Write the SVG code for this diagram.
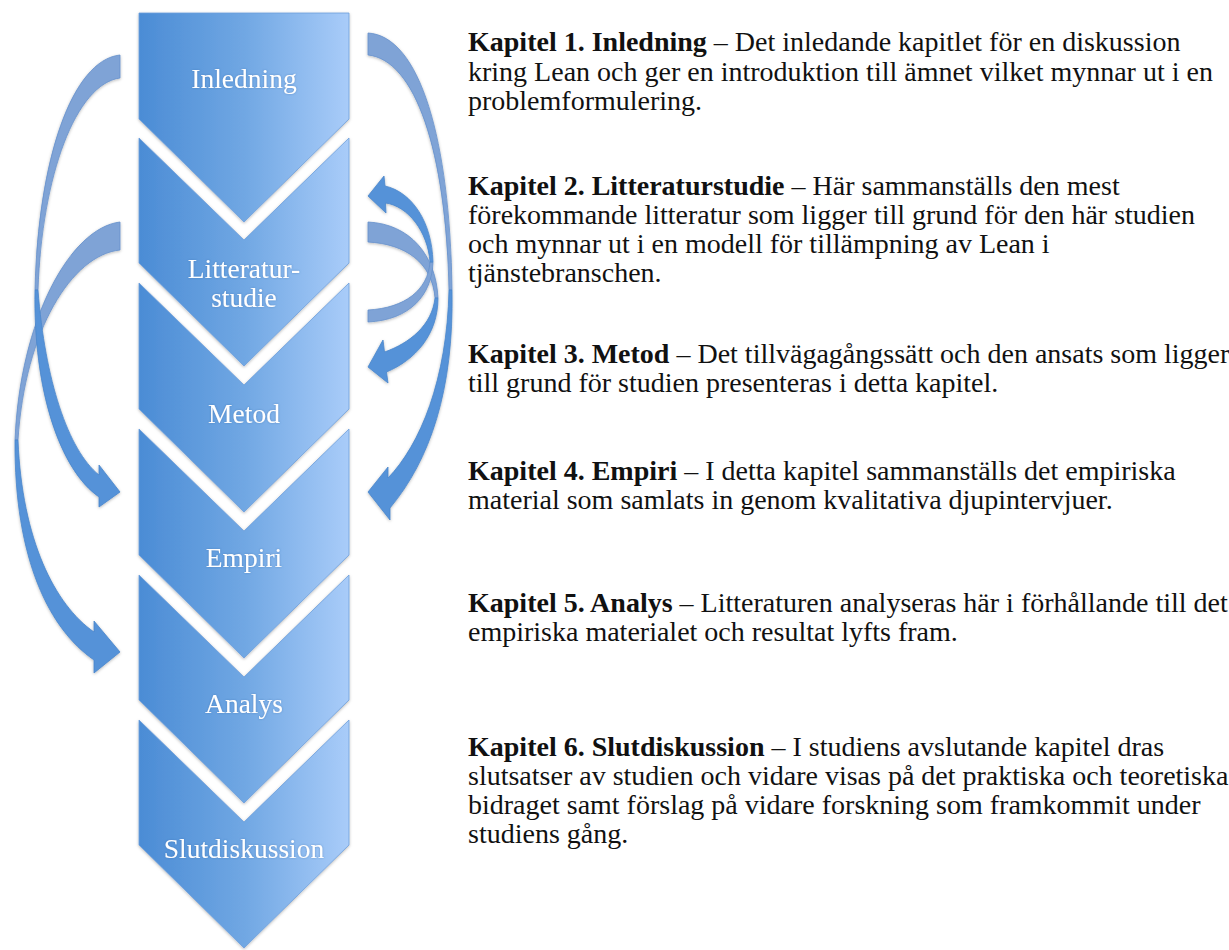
<svg xmlns="http://www.w3.org/2000/svg" width="1229" height="950" viewBox="0 0 1229 950">
  <defs>
    <linearGradient id="chevFill" x1="0" y1="0" x2="1" y2="0">
      <stop offset="0" stop-color="#4b8cd5"/>
      <stop offset="0.5" stop-color="#70a7e3"/>
      <stop offset="1" stop-color="#a9ccf9"/>
    </linearGradient>
    <filter id="soft" x="-15%" y="-15%" width="130%" height="130%">
      <feDropShadow dx="0" dy="1" stdDeviation="1.6" flood-color="#000" flood-opacity="0.28"/>
    </filter>
    <filter id="textGlow" x="-10%" y="-30%" width="120%" height="160%">
      <feDropShadow dx="0" dy="0" stdDeviation="0.8" flood-color="#2f5f9e" flood-opacity="0.45"/>
    </filter>
  </defs>
  <style>
    .chev { fill: url(#chevFill); stroke: #6d9edb; stroke-width: 0.8; filter: url(#soft); }
    .lbl { font-family: "Liberation Serif", "Times New Roman", serif; font-size: 27.5px; fill: #ffffff; text-anchor: middle; filter: url(#textGlow); }
    .back { fill: #7fa3d6; stroke: #6690cc; stroke-width: 0.8; }
    .front { fill: #5592d8; stroke: #4a86cc; stroke-width: 0.8; }
    .desc { font-family: "Liberation Serif", "Times New Roman", serif; font-size: 28px; fill: #111111; }
    .b { font-weight: bold; }
  </style>

  <rect width="1229" height="950" fill="#ffffff"/>

  <!-- chapter chevrons -->
  <g id="node-inledning">
    <path class="chev" d="M139,13 H349 V119 L244,222 L139,119 Z"/>
    <text class="lbl" x="244" y="88">Inledning</text>
  </g>
  <g id="node-litteraturstudie">
    <path class="chev" d="M139,138 L244,240 L349,138 V263 L244,366 L139,263 Z"/>
    <text class="lbl" x="244" y="278">Litteratur-</text>
    <text class="lbl" x="244" y="307">studie</text>
  </g>
  <g id="node-metod">
    <path class="chev" d="M139,283 L244,385 L349,283 V409 L244,512 L139,409 Z"/>
    <text class="lbl" x="244" y="423">Metod</text>
  </g>
  <g id="node-empiri">
    <path class="chev" d="M139,429 L244,531 L349,429 V555 L244,658 L139,555 Z"/>
    <text class="lbl" x="244" y="567">Empiri</text>
  </g>
  <g id="node-analys">
    <path class="chev" d="M139,575 L244,677 L349,575 V700 L244,803 L139,700 Z"/>
    <text class="lbl" x="244" y="713">Analys</text>
  </g>
  <g id="node-slutdiskussion">
    <path class="chev" d="M139,720 L244,822 L349,720 V845 L244,948 L139,845 Z"/>
    <text class="lbl" x="244" y="858">Slutdiskussion</text>
  </g>

  <!-- curved feedback arrows: darker back face from the tail, brighter front face to the head -->
  <g id="connectors" filter="url(#soft)">
    <!-- back faces -->
    <path class="back" d="M120,55 C72,60 38,160 35,290 L38,290 C42,175 76,84 120,78 Z"/>
    <path class="back" d="M120,222 C70,228 20,320 15,440 L18,440 C25,330 72,255 120,250 Z"/>
    <path class="back" d="M368,33 C420,36 450,140 452,290 L449,290 C446,150 415,60 368,55 Z"/>
    <path class="back" d="M368,222 C410,224 436,255 438,298 L435,298 C432,262 405,244 368,242 Z"/>
    <path class="back" d="M368,322 C410,320 432,295 433,262 L430,262 C428,290 405,308 368,310 Z"/>
    <!-- front faces with heads -->
    <path class="front" d="M35,290 C33,390 60,470 99,497 L99,507 L120,492 L99,465 L99,475 C68,450 45,380 38,290 Z"/>
    <path class="front" d="M15,440 C14,560 50,630 94,660 L94,673 L120,652 L94,621 L94,632 C55,605 22,540 18,440 Z"/>
    <path class="front" d="M452,290 C454,390 430,460 390,508 L390,520 L368,492 L388,467 L388,478 C420,445 447,380 449,290 Z"/>
    <path class="front" d="M438,298 C438,335 415,360 386.5,372 L388,383 L368,367 L383,340 L384.5,352 C410,343 432,325 435,298 Z"/>
    <path class="front" d="M433,262 C432,222 412,192 385,186 L384,176 L368,196 L386,213 L385.5,203 C408,206 428,232 430,262 Z"/>
  </g>

  <!-- chapter descriptions -->
  <g id="text-kapitel-1">
    <text class="desc" x="468" y="51"><tspan class="b">Kapitel 1. Inledning</tspan> – Det inledande kapitlet för en diskussion</text>
    <text class="desc" x="468" y="80.5">kring Lean och ger en introduktion till ämnet vilket mynnar ut i en</text>
    <text class="desc" x="468" y="110">problemformulering.</text>
  </g>
  <g id="text-kapitel-2">
    <text class="desc" x="468" y="195"><tspan class="b">Kapitel 2. Litteraturstudie</tspan> – Här sammanställs den mest</text>
    <text class="desc" x="468" y="224">förekommande litteratur som ligger till grund för den här studien</text>
    <text class="desc" x="468" y="253">och mynnar ut i en modell för tillämpning av Lean i</text>
    <text class="desc" x="468" y="282">tjänstebranschen.</text>
  </g>
  <g id="text-kapitel-3">
    <text class="desc" x="468" y="363"><tspan class="b">Kapitel 3. Metod</tspan> – Det tillvägagångssätt och den ansats som ligger</text>
    <text class="desc" x="468" y="392">till grund för studien presenteras i detta kapitel.</text>
  </g>
  <g id="text-kapitel-4">
    <text class="desc" x="468" y="480"><tspan class="b">Kapitel 4. Empiri</tspan> – I detta kapitel sammanställs det empiriska</text>
    <text class="desc" x="468" y="509">material som samlats in genom kvalitativa djupintervjuer.</text>
  </g>
  <g id="text-kapitel-5">
    <text class="desc" x="468" y="612"><tspan class="b">Kapitel 5. Analys</tspan> – Litteraturen analyseras här i förhållande till det</text>
    <text class="desc" x="468" y="641">empiriska materialet och resultat lyfts fram.</text>
  </g>
  <g id="text-kapitel-6">
    <text class="desc" x="468" y="756"><tspan class="b">Kapitel 6. Slutdiskussion</tspan> – I studiens avslutande kapitel dras</text>
    <text class="desc" x="468" y="785">slutsatser av studien och vidare visas på det praktiska och teoretiska</text>
    <text class="desc" x="468" y="814">bidraget samt förslag på vidare forskning som framkommit under</text>
    <text class="desc" x="468" y="843">studiens gång.</text>
  </g>
</svg>
